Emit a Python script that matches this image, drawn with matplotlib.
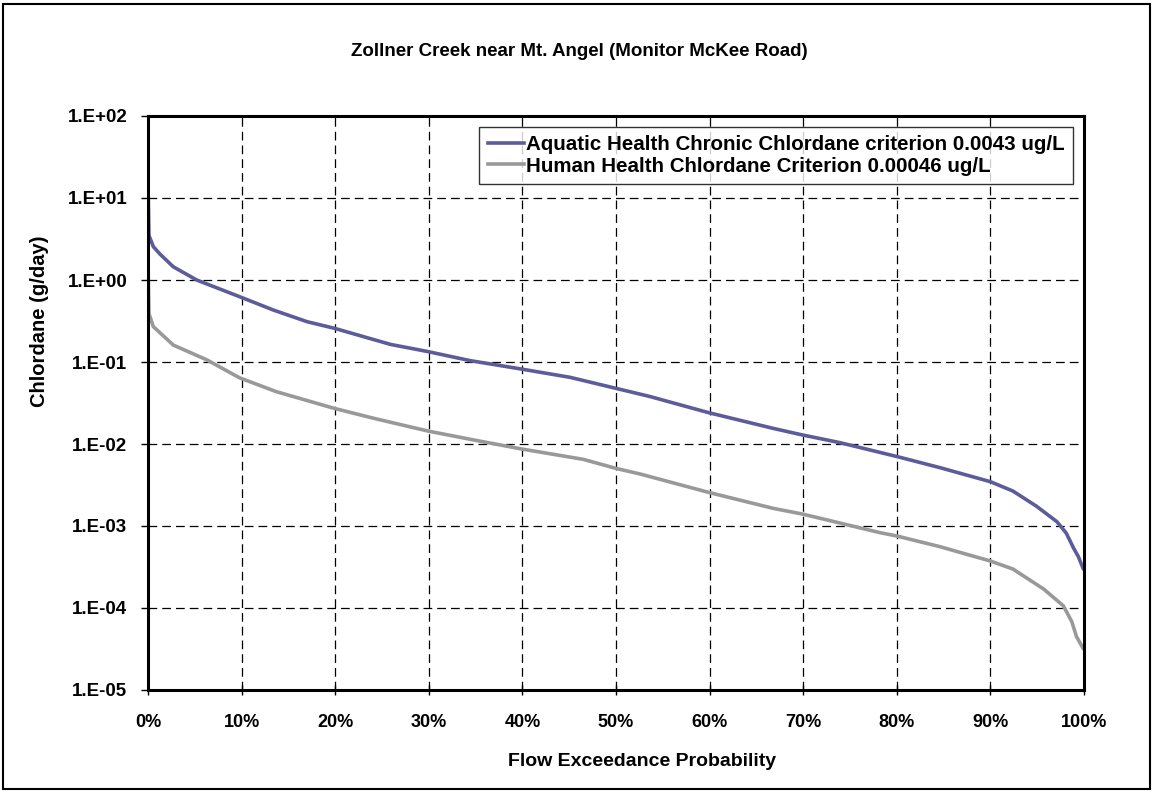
import math
import matplotlib
matplotlib.use("Agg")
import matplotlib.pyplot as plt
from matplotlib.ticker import FuncFormatter, FixedLocator
from matplotlib.patches import Rectangle

# ---- data ----
title = "Zollner Creek near Mt. Angel (Monitor McKee Road)"
xlabel = "Flow Exceedance Probability"
ylabel = "Chlordane (g/day)"

aquatic_label = "Aquatic Health Chronic Chlordane criterion 0.0043 ug/L"
human_label = "Human Health Chlordane Criterion 0.00046 ug/L"

aquatic_x = [0, 0.1, 0.57, 1.28, 2.7, 5.2, 9.8, 13.4, 17.0, 19.9, 25.9, 29.9,
             34.4, 39.9, 45.1, 50.0, 53.6, 59.9, 66.8, 69.9, 73.9, 78.2, 80.3,
             84.6, 90.0, 92.4, 94.9, 97.1, 98.1, 98.9, 99.4, 99.9]
aquatic_y = [15.8, 3.5, 2.55, 2.07, 1.45, 1.0, 0.625, 0.43, 0.31, 0.258, 0.164,
             0.134, 0.104, 0.082, 0.065, 0.0477, 0.038, 0.0241, 0.0155, 0.0129,
             0.0104, 0.0079, 0.0069, 0.00515, 0.00347, 0.00267, 0.00175,
             0.00113, 0.00082, 0.000534, 0.000422, 0.000305]

human_x = [0, 0.1, 0.57, 2.7, 6.3, 9.8, 13.7, 19.9, 24.1, 29.9, 34.8, 39.9,
           46.5, 50.0, 52.6, 59.9, 66.8, 69.9, 78.2, 80.0, 84.6, 90.0, 92.4,
           95.7, 97.8, 98.7, 99.2, 99.9]
human_y = [1.67, 0.39, 0.27, 0.161, 0.106, 0.064, 0.0435, 0.0272, 0.0206,
           0.0144, 0.0112, 0.0087, 0.0065, 0.00504, 0.0043, 0.00257, 0.00164,
           0.0014, 0.00083, 0.000755, 0.00056, 0.000374, 0.000299, 0.00017,
           0.000106, 0.000068, 0.0000447, 0.0000323]

x_ticks = [0, 10, 20, 30, 40, 50, 60, 70, 80, 90, 100]
y_ticks = [1e-5, 1e-4, 1e-3, 1e-2, 1e-1, 1e0, 1e1, 1e2]

# ---- style ----
plt.rcParams['font.family'] = ['Liberation Sans', 'DejaVu Sans']
plt.rcParams['font.weight'] = 'bold'

W, H = 1154, 792
fig = plt.figure(figsize=(W / 100, H / 100), dpi=100)
fig.patch.set_facecolor('white')

# outer chart border
fig.patches.append(Rectangle((3 / W, 3 / H), (W - 7) / W, (H - 7) / H,
                             transform=fig.transFigure, fill=False,
                             edgecolor='black', linewidth=1.5))

ax = fig.add_axes([148 / W, 1 - 690 / H, (1084 - 148) / W, (690 - 116) / H])

ax.plot(aquatic_x, aquatic_y, color='#5c5c9a', linewidth=2.6,
        label=aquatic_label, solid_joinstyle='miter')
ax.plot(human_x, human_y, color='#999999', linewidth=2.6,
        label=human_label, solid_joinstyle='miter')

ax.set_yscale('log')
ax.set_xlim(0, 100)
ax.set_ylim(1e-5, 1e2)
ax.xaxis.set_major_locator(FixedLocator(x_ticks))
ax.yaxis.set_major_locator(FixedLocator(y_ticks))
ax.yaxis.set_minor_locator(FixedLocator([]))
ax.xaxis.set_major_formatter(FuncFormatter(lambda v, p: f"{int(round(v))}%"))


def yfmt(v, p):
    e = int(round(math.log10(v)))
    return f"1.E{e:+03d}"


ax.yaxis.set_major_formatter(FuncFormatter(yfmt))

ax.grid(True, which='major', color='black', linestyle=(0, (7, 4)),
        linewidth=0.9)
ax.set_axisbelow(True)

for s in ax.spines.values():
    s.set_linewidth(2.2)
    s.set_color('black')

ax.tick_params(axis='y', direction='out', length=5, width=1, labelsize=13.5,
               pad=10)
ax.tick_params(axis='x', direction='inout', length=7, width=1, labelsize=13,
               pad=14)
for lab in ax.get_xticklabels() + ax.get_yticklabels():
    lab.set_fontweight('bold')

fig.text(579 / W, 1 - 52 / H, title, ha='center', va='center',
         fontsize=13.5, fontweight='bold')
fig.text(642 / W, 1 - 761 / H, xlabel, ha='center', va='center',
         fontsize=14, fontweight='bold')
fig.text(40 / W, 1 - 321 / H, ylabel, ha='center', va='center',
         rotation=90, fontsize=14.5, fontweight='bold')

leg = ax.legend(loc='upper right', bbox_to_anchor=(1073 / W, 1 - 127 / H),
                bbox_transform=fig.transFigure, fontsize=14.8,
                frameon=True, fancybox=False, handlelength=1.75,
                handletextpad=0.12, borderpad=0.4, labelspacing=0.12,
                borderaxespad=0)
leg.get_frame().set_edgecolor('black')
leg.get_frame().set_linewidth(1.0)
for t in leg.get_texts():
    t.set_fontweight('bold')

fig.savefig('out.png', dpi=100)
